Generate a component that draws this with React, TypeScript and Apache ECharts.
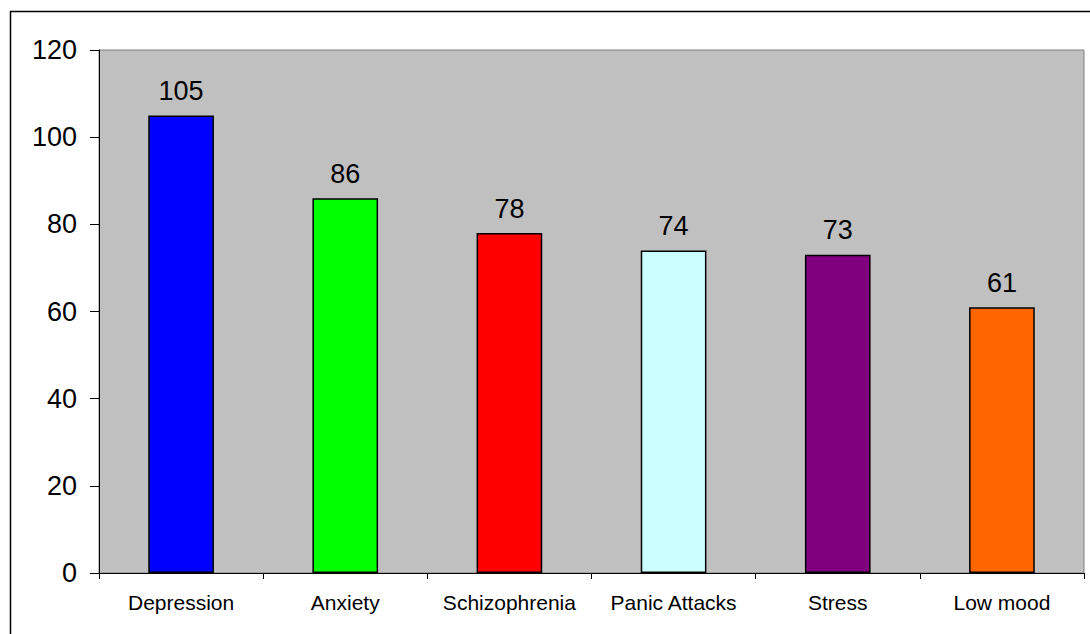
import React, { useEffect, useRef } from "react";
import * as echarts from "echarts";

// Number of respondents per condition
const categories = ["Depression", "Anxiety", "Schizophrenia", "Panic Attacks", "Stress", "Low mood"];
const counts = [105, 86, 78, 74, 73, 61];
const barColors = ["#0000FF", "#00FF00", "#FF0000", "#CCFFFF", "#800080", "#FF6600"];

const W = 1090;
const H = 634;

export default function App() {
  const ref = useRef<HTMLDivElement>(null);

  useEffect(() => {
    if (!ref.current) return;
    const chart = echarts.init(ref.current, undefined, { renderer: "svg" });
    const font = "Arial, 'Liberation Sans', Helvetica, sans-serif";
    chart.setOption({
      animation: false,
      backgroundColor: "#FFFFFF",
      textStyle: { fontFamily: font },
      graphic: [
        {
          type: "rect",
          shape: { x: 10.5, y: 11.5, width: W + 20, height: H + 20 },
          style: { fill: "none", stroke: "#000000", lineWidth: 1.5 },
          silent: true,
          z: 100,
        },
      ],
      grid: {
        left: 99,
        top: 50,
        right: 6,
        bottom: 61,
        show: true,
        backgroundColor: "#C0C0C0",
        borderColor: "#808080",
        borderWidth: 1,
      },
      xAxis: {
        type: "category",
        data: categories,
        axisLine: { show: true, lineStyle: { color: "#000000", width: 1 } },
        axisTick: { show: true, interval: 0, alignWithLabel: false, length: 6, lineStyle: { color: "#000000" } },
        axisLabel: { color: "#000000", fontSize: 21, margin: 19, interval: 0, fontFamily: font },
        splitLine: { show: false },
      },
      yAxis: {
        type: "value",
        min: 0,
        max: 120,
        interval: 20,
        axisLine: { show: true, lineStyle: { color: "#000000", width: 1 } },
        axisTick: { show: true, length: 9, lineStyle: { color: "#000000" } },
        axisLabel: { color: "#000000", fontSize: 27, margin: 22, fontFamily: font },
        splitLine: { show: false },
      },
      series: [
        {
          type: "bar",
          barWidth: "40%",
          data: counts.map((v, i) => ({
            value: v,
            itemStyle: { color: barColors[i], borderColor: "#000000", borderWidth: 1.5 },
          })),
          label: {
            show: true,
            position: "top",
            distance: 11,
            color: "#000000",
            fontSize: 27,
            fontFamily: font,
          },
        },
      ],
    });
    return () => chart.dispose();
  }, []);

  return (
    <div
      ref={ref}
      style={{ position: "absolute", left: 0, top: 0, width: W, height: H }}
    />
  );
}
